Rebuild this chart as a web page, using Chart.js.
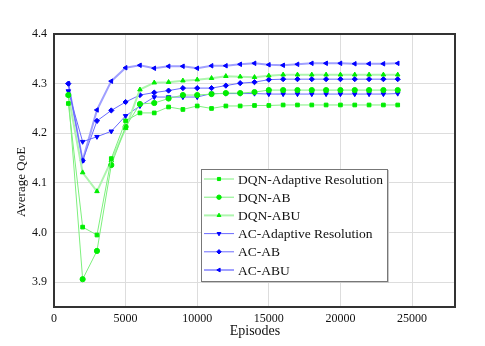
<!DOCTYPE html>
<html>
<head>
<meta charset="utf-8">
<script src="https://cdn.jsdelivr.net/npm/chart.js@4.4.1/dist/chart.umd.min.js"></script>
<style>
  html, body { margin: 0; padding: 0; background: #fff; }
  #wrap { width: 485px; height: 346px; position: relative; }
</style>
</head>
<body>
<div id="wrap"><canvas id="chart"></canvas></div>
<script>
// Episode numbers on the x axis
const episodes = [1000, 2000, 3000, 4000, 5000, 6000, 7000, 8000, 9000, 10000, 11000, 12000,
  13000, 14000, 15000, 16000, 17000, 18000, 19000, 20000, 21000, 22000, 23000, 24000];

const seriesNames = ['DQN-Adaptive Resolution', 'DQN-AB', 'DQN-ABU', 'AC-Adaptive Resolution', 'AC-AB', 'AC-ABU'];

// Average QoE
const dqnAdaptive = [4.260, 4.011, 3.995, 4.149, 4.225, 4.241, 4.241, 4.253, 4.248, 4.255, 4.250, 4.255,
  4.255, 4.256, 4.256, 4.257, 4.257, 4.257, 4.257, 4.257, 4.257, 4.257, 4.257, 4.257];
const dqnAB = [4.277, 3.906, 3.963, 4.136, 4.213, 4.259, 4.261, 4.270, 4.277, 4.277, 4.279, 4.281,
  4.281, 4.283, 4.287, 4.287, 4.287, 4.287, 4.287, 4.287, 4.287, 4.287, 4.287, 4.287];
const dqnABU = [4.277, 4.121, 4.083, 4.145, 4.210, 4.288, 4.302, 4.303, 4.306, 4.308, 4.311, 4.315,
  4.314, 4.313, 4.316, 4.318, 4.318, 4.318, 4.318, 4.318, 4.318, 4.318, 4.318, 4.318];
const acAdaptive = [4.285, 4.183, 4.193, 4.204, 4.235, 4.255, 4.273, 4.273, 4.273, 4.273, 4.280, 4.280,
  4.280, 4.280, 4.279, 4.279, 4.279, 4.279, 4.279, 4.279, 4.279, 4.279, 4.279, 4.280];
const acAB = [4.300, 4.145, 4.225, 4.246, 4.263, 4.277, 4.282, 4.286, 4.291, 4.291, 4.291, 4.296,
  4.301, 4.303, 4.308, 4.309, 4.309, 4.309, 4.309, 4.309, 4.309, 4.309, 4.309, 4.309];
const acABU = [4.300, 4.145, 4.247, 4.305, 4.332, 4.337, 4.331, 4.335, 4.335, 4.331, 4.336, 4.336,
  4.339, 4.341, 4.338, 4.337, 4.339, 4.341, 4.341, 4.341, 4.340, 4.340, 4.340, 4.341];

const xTicks = [0, 5000, 10000, 15000, 20000, 25000];
const yTicks = [3.9, 4.0, 4.1, 4.2, 4.3, 4.4];

const serif = "'Liberation Serif', 'Times New Roman', serif";

function pts(values) {
  return values.map((v, i) => ({ x: episodes[i], y: v }));
}

function series(label, values, lineColor, markColor, style, rotation, width) {
  return {
    label: label,
    data: pts(values),
    borderColor: lineColor,
    backgroundColor: markColor,
    pointBorderColor: markColor,
    pointBackgroundColor: markColor,
    pointStyle: style,
    rotation: rotation,
    pointRadius: 2.6,
    pointBorderWidth: 1,
    borderWidth: width,
    tension: 0
  };
}

const datasets = [
  series(seriesNames[0], dqnAdaptive, '#7df07d', '#00ee00', 'rect', 0, 1),
  series(seriesNames[1], dqnAB, '#7df07d', '#00ee00', 'circle', 0, 1),
  series(seriesNames[2], dqnABU, '#aef5ae', '#00ee00', 'triangle', 0, 2),
  series(seriesNames[3], acAdaptive, '#6b6bff', '#0000ff', 'triangle', 180, 1),
  series(seriesNames[4], acAB, '#6b6bff', '#0000ff', 'rectRot', 0, 1),
  series(seriesNames[5], acABU, '#a0a0ff', '#0000ff', 'triangle', -90, 2)
];

// frame round the plot area, axis titles and the boxed legend inside it
const framePlugin = {
  id: 'frame',
  afterDraw(chart) {
    const ctx = chart.ctx;
    const a = chart.chartArea;
    ctx.save();
    ctx.strokeStyle = '#333';
    ctx.lineWidth = 2;
    ctx.strokeRect(a.left, a.top, a.right - a.left, a.bottom - a.top);

    // axis titles
    ctx.fillStyle = '#111';
    ctx.textAlign = 'center';
    ctx.textBaseline = 'middle';
    ctx.font = '14px ' + serif;
    ctx.fillText('Episodes', 255, 331);
    ctx.save();
    ctx.translate(22, 182);
    ctx.rotate(-Math.PI / 2);
    ctx.font = '13px ' + serif;
    ctx.fillText('Average QoE', 0, 0);
    ctx.restore();

    // legend box
    const bx = 201, by = 169, bw = 186, bh = 112;
    ctx.fillStyle = '#fff';
    ctx.fillRect(bx, by, bw, bh);
    ctx.strokeStyle = '#c8c8c8';
    ctx.lineWidth = 2;
    ctx.beginPath();
    ctx.moveTo(bx + 1, by + bh + 1);
    ctx.lineTo(bx + bw + 1, by + bh + 1);
    ctx.lineTo(bx + bw + 1, by + 1);
    ctx.stroke();
    ctx.strokeStyle = '#777';
    ctx.lineWidth = 1;
    ctx.strokeRect(bx + 0.5, by + 0.5, bw, bh);

    ctx.font = '13.5px ' + serif;
    ctx.textAlign = 'left';
    chart.data.datasets.forEach((ds, i) => {
      const y = by + 10 + i * 18.2;
      ctx.strokeStyle = ds.borderColor;
      ctx.lineWidth = ds.borderWidth;
      ctx.beginPath();
      ctx.moveTo(bx + 3, y);
      ctx.lineTo(bx + 33, y);
      ctx.stroke();
      ctx.fillStyle = ds.pointBackgroundColor;
      ctx.strokeStyle = ds.pointBorderColor;
      ctx.lineWidth = 1;
      Chart.helpers.drawPoint(ctx, { pointStyle: ds.pointStyle, rotation: ds.rotation, radius: 2.2, borderWidth: 1 }, bx + 18, y);
      ctx.fillStyle = '#111';
      ctx.fillText(ds.label, bx + 37, y + 1);
    });
    ctx.restore();
  }
};

new Chart(document.getElementById('chart'), {
  type: 'line',
  data: { datasets: datasets },
  options: {
    responsive: true,
    maintainAspectRatio: false,
    animation: false,
    layout: { padding: { top: 34, right: 30, left: 0, bottom: 0 } },
    plugins: {
      legend: { display: false },
      tooltip: { enabled: false }
    },
    scales: {
      x: {
        type: 'linear',
        min: 0,
        max: 28000,
        afterBuildTicks: axis => { axis.ticks = xTicks.map(v => ({ value: v })); },
        afterFit: scale => { scale.height = 39; },
        ticks: {
          color: '#111',
          font: { family: serif, size: 12 },
          padding: 5,
          maxRotation: 0,
          callback: v => String(v)
        },
        grid: { color: '#dddddd', drawTicks: false },
        border: { display: false }
      },
      y: {
        min: 3.85,
        max: 4.4,
        afterBuildTicks: axis => { axis.ticks = yTicks.map(v => ({ value: v })); },
        afterFit: scale => { scale.width = 54; },
        ticks: {
          color: '#111',
          font: { family: serif, size: 12 },
          padding: 7,
          callback: v => v.toFixed(1)
        },
        grid: { color: '#dddddd', drawTicks: false },
        border: { display: false }
      }
    }
  },
  plugins: [framePlugin]
});
</script>
</body>
</html>
